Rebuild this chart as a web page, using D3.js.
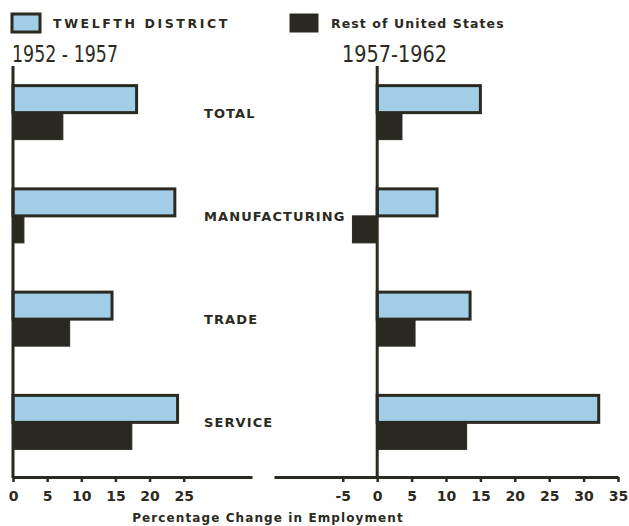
<!DOCTYPE html>
<html>
<head>
<meta charset="utf-8">
<script src="https://cdn.jsdelivr.net/npm/d3@7"></script>
<style>
  body { margin: 0; background: #fff; }
  text { fill: #2b2a20; }
</style>
</head>
<body>
<script>
// valeurs (variation en % de l'emploi)
const categories = ['TOTAL', 'MANUFACTURING', 'TRADE', 'SERVICE'];
const series = ['TWELFTH DISTRICT', 'Rest of United States'];
const periods = ['1952 - 1957', '1957-1962'];

const twelfth5257 = [18.1, 23.7, 14.5, 24.1];
const restUS5257  = [7.3, 1.6, 8.3, 17.4];
const twelfth5762 = [15.0, 8.7, 13.5, 32.2];
const restUS5762  = [3.6, -3.6, 5.5, 13.0];

const ticks5257 = [0, 5, 10, 15, 20, 25];
const ticks5762 = [-5, 0, 5, 10, 15, 20, 25, 30, 35];

const width = 629, height = 526;
const ink = '#2b2a20';
const blue = '#a2cde6';

const svg = d3.select('body').append('svg')
  .attr('width', width)
  .attr('height', height);

const axisY = 477;

const y = d3.scaleBand().domain(categories).range([61, 474]);
const ySub = d3.scaleBand().domain(series).range([-27, 27]);

const panels = [
  { label: periods[0], x: d3.scaleLinear().domain([0, 35]).range([13, 252]),
    values: [twelfth5257, restUS5257], ticks: ticks5257, labelX: 12, labelW: 106 },
  { label: periods[1], x: d3.scaleLinear().domain([-15, 35]).range([274, 618]),
    values: [twelfth5762, restUS5762], ticks: ticks5762, labelX: 342, labelW: 105 }
];

panels.forEach(p => {
  const g = svg.append('g');

  // barres
  series.forEach((s, si) => {
    g.selectAll(null)
      .data(categories.map((c, i) => ({ c, v: p.values[si][i] })))
      .join('rect')
      .attr('x', d => p.x(Math.min(0, d.v)))
      .attr('width', d => Math.abs(p.x(d.v) - p.x(0)))
      .attr('y', d => y(d.c) + y.bandwidth() / 2 + ySub(s))
      .attr('height', ySub.bandwidth())
      .attr('fill', si === 0 ? blue : '#2a2921')
      .attr('stroke', ink)
      .attr('stroke-width', si === 0 ? 3 : 1);
  });

  // axe horizontal
  const ax = g.append('g')
    .attr('transform', `translate(0,${axisY})`)
    .call(d3.axisBottom(p.x).tickValues(p.ticks).tickFormat(d => String(d))
      .tickSize(5).tickSizeOuter(0).tickPadding(9));
  ax.select('.domain').attr('stroke', ink).attr('stroke-width', 3);
  ax.selectAll('.tick line').attr('stroke', ink).attr('stroke-width', 2.5);
  ax.selectAll('.tick text')
    .attr('fill', ink)
    .style('font-family', '"DejaVu Sans", sans-serif')
    .style('font-weight', 'bold')
    .style('font-size', '14px');

  // axe vertical au zéro
  g.append('line')
    .attr('x1', p.x(0)).attr('x2', p.x(0))
    .attr('y1', 66).attr('y2', axisY + 1)
    .attr('stroke', ink).attr('stroke-width', 3);

  // période
  g.append('text')
    .attr('x', p.labelX).attr('y', 62)
    .attr('textLength', p.labelW)
    .attr('lengthAdjust', 'spacingAndGlyphs')
    .style('font-family', '"DejaVu Sans Condensed", "Liberation Sans Narrow", sans-serif')
    .style('font-size', '23px')
    .text(p.label);
});

// étiquettes des catégories
svg.selectAll('.cat')
  .data(categories)
  .join('text')
  .attr('class', 'cat')
  .attr('x', 204)
  .attr('y', d => y(d) + y.bandwidth() / 2 + 5)
  .style('font-family', '"DejaVu Sans", sans-serif')
  .style('font-weight', 'bold')
  .style('font-size', '13px')
  .style('letter-spacing', '1.1px')
  .text(d => d);

// légende
const legend = [
  { s: series[0], x: 12, fill: blue, sw: 3, ls: '2.6px' },
  { s: series[1], x: 290, fill: '#2a2921', sw: 1, ls: '1.1px' }
];
legend.forEach(l => {
  svg.append('rect')
    .attr('x', l.x).attr('y', 14)
    .attr('width', 28).attr('height', 18)
    .attr('fill', l.fill)
    .attr('stroke', ink).attr('stroke-width', l.sw);
  svg.append('text')
    .attr('x', l.x + 41).attr('y', 28)
    .style('font-family', '"DejaVu Sans", sans-serif')
    .style('font-weight', 'bold')
    .style('font-size', '12.5px')
    .style('letter-spacing', l.ls)
    .text(l.s);
});

// titre de l'axe
svg.append('text')
  .attr('x', 268).attr('y', 522)
  .attr('text-anchor', 'middle')
  .style('font-family', '"DejaVu Sans", sans-serif')
  .style('font-weight', 'bold')
  .style('font-size', '12px')
  .style('letter-spacing', '1.1px')
  .text('Percentage Change in Employment');
</script>
</body>
</html>
